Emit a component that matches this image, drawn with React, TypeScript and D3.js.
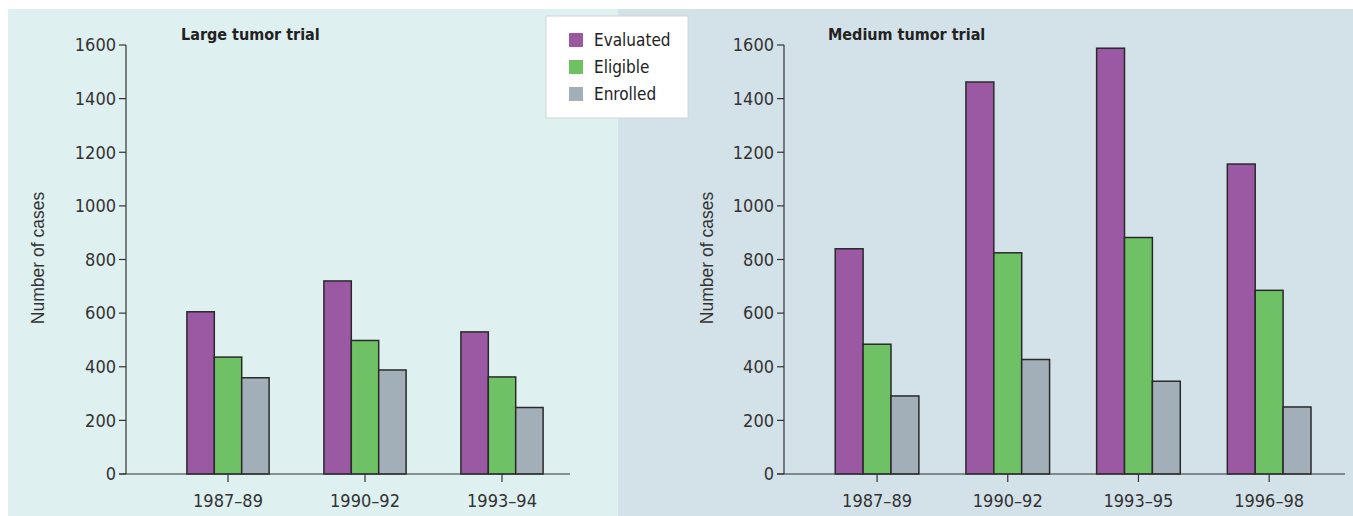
import * as d3 from 'd3';

const seriesNames = ["Evaluated", "Eligible", "Enrolled"];
const seriesColors = ["#9b59a4", "#6fc166", "#a3afb8"];

const largeCategories = ["1987–89", "1990–92", "1993–94"];
const largeEvaluated = [605, 720, 530];
const largeEligible = [436, 498, 362];
const largeEnrolled = [359, 388, 248];

const mediumCategories = ["1987–89", "1990–92", "1993–95", "1996–98"];
const mediumEvaluated = [840, 1462, 1588, 1156];
const mediumEligible = [484, 825, 882, 685];
const mediumEnrolled = [291, 427, 346, 250];

const yTicks = [0, 200, 400, 600, 800, 1000, 1200, 1400, 1600];

const narrow = '"Liberation Sans Narrow", "DejaVu Sans Condensed", sans-serif';

interface PanelProps {
    title: string
    titleX: number
    categories: string[]
    values: number[][]
    axisX: number
    bandStart: number
    bandEnd: number
    padInner: number
    padOuter: number
    axisEnd: number
    labelX: number
}

const Panel = (props: PanelProps) => {
    const y = d3.scaleLinear().domain([0, 1600]).range([474, 45])
    const x = d3.scaleBand<string>().domain(props.categories).range([props.bandStart, props.bandEnd])
        .paddingInner(props.padInner).paddingOuter(props.padOuter)
    const inner = d3.scaleBand<string>().domain(seriesNames).range([0, x.bandwidth()])

    return (
        <g>
            <text x={props.titleX} y={40} fontFamily={narrow} fontWeight="bold" fontSize="16px" fill="#222">{props.title}</text>

            {/* bars */}
            {props.categories.map((c, i) => (
                <g key={c} transform={`translate(${x(c)},0)`}>
                    {seriesNames.map((s, j) => (
                        <rect key={s} x={inner(s)} y={y(props.values[j][i])} width={inner.bandwidth()}
                              height={y(0) - y(props.values[j][i])} fill={seriesColors[j]} stroke="#2a2a2a" strokeWidth={1.5} />
                    ))}
                </g>
            ))}

            {/* y axis */}
            <line x1={props.axisX} x2={props.axisX} y1={y(1600)} y2={y(0)} stroke="#333" strokeWidth={1.2} />
            {yTicks.map(t => (
                <g key={t}>
                    <line x1={props.axisX - 7} x2={props.axisX} y1={y(t)} y2={y(t)} stroke="#333" strokeWidth={1.2} />
                    <text x={props.axisX - 10} y={y(t)} dy="0.35em" textAnchor="end" fontFamily={narrow} fontSize="18px" fill="#333">{t}</text>
                </g>
            ))}

            {/* x axis */}
            <line x1={props.axisX - 7} x2={props.axisEnd} y1={y(0)} y2={y(0)} stroke="#333" strokeWidth={1.2} />
            {props.categories.map(c => {
                const cx = (x(c) ?? 0) + x.bandwidth() / 2
                return (
                    <g key={c}>
                        <line x1={cx} x2={cx} y1={y(0)} y2={y(0) + 8} stroke="#333" strokeWidth={1.2} />
                        <text x={cx} y={507} textAnchor="middle" fontFamily={narrow} fontSize="18px" fill="#333">{c}</text>
                    </g>
                )
            })}

            <text transform={`translate(${props.labelX},258) rotate(-90)`} textAnchor="middle" fontFamily='"Liberation Sans", Arial, sans-serif' fontSize="17.5px" fill="#333">Number of cases</text>
        </g>
    )
}

const App = () => {
    return (
        <svg width={1353} height={516} style={{position: "absolute", left: 0, top: 0}}>
            <rect x={0} y={0} width={1353} height={516} fill="#ffffff" />
            <rect x={8} y={9} width={610} height={507} fill="#dff0f0" />
            <rect x={618} y={9} width={735} height={507} fill="#d3e1e8" />

            <Panel title="Large tumor trial" titleX={181} categories={largeCategories}
                   values={[largeEvaluated, largeEligible, largeEnrolled]}
                   axisX={126} bandStart={159.5} bandEnd={570.5} padInner={0.4} padOuter={0.2}
                   axisEnd={570} labelX={44} />
            <Panel title="Medium tumor trial" titleX={828} categories={mediumCategories}
                   values={[mediumEvaluated, mediumEligible, mediumEnrolled]}
                   axisX={784} bandStart={811.7} bandEnd={1334.5} padInner={0.36} padOuter={0.18}
                   axisEnd={1345} labelX={713} />

            {/* legend */}
            <g>
                <rect x={546} y={16} width={142} height={102} fill="#ffffff" stroke="#d0d4d6" strokeWidth={1} />
                {seriesNames.map((s, i) => (
                    <g key={s} transform={`translate(569,${40 + i * 27})`}>
                        <rect x={0} y={-7} width={14} height={14} fill={seriesColors[i]} />
                        <text x={25} y={0} dy="0.35em" fontFamily={narrow} fontSize="17px" fill="#222">{s}</text>
                    </g>
                ))}
            </g>
        </svg>
    )
}

export default App
